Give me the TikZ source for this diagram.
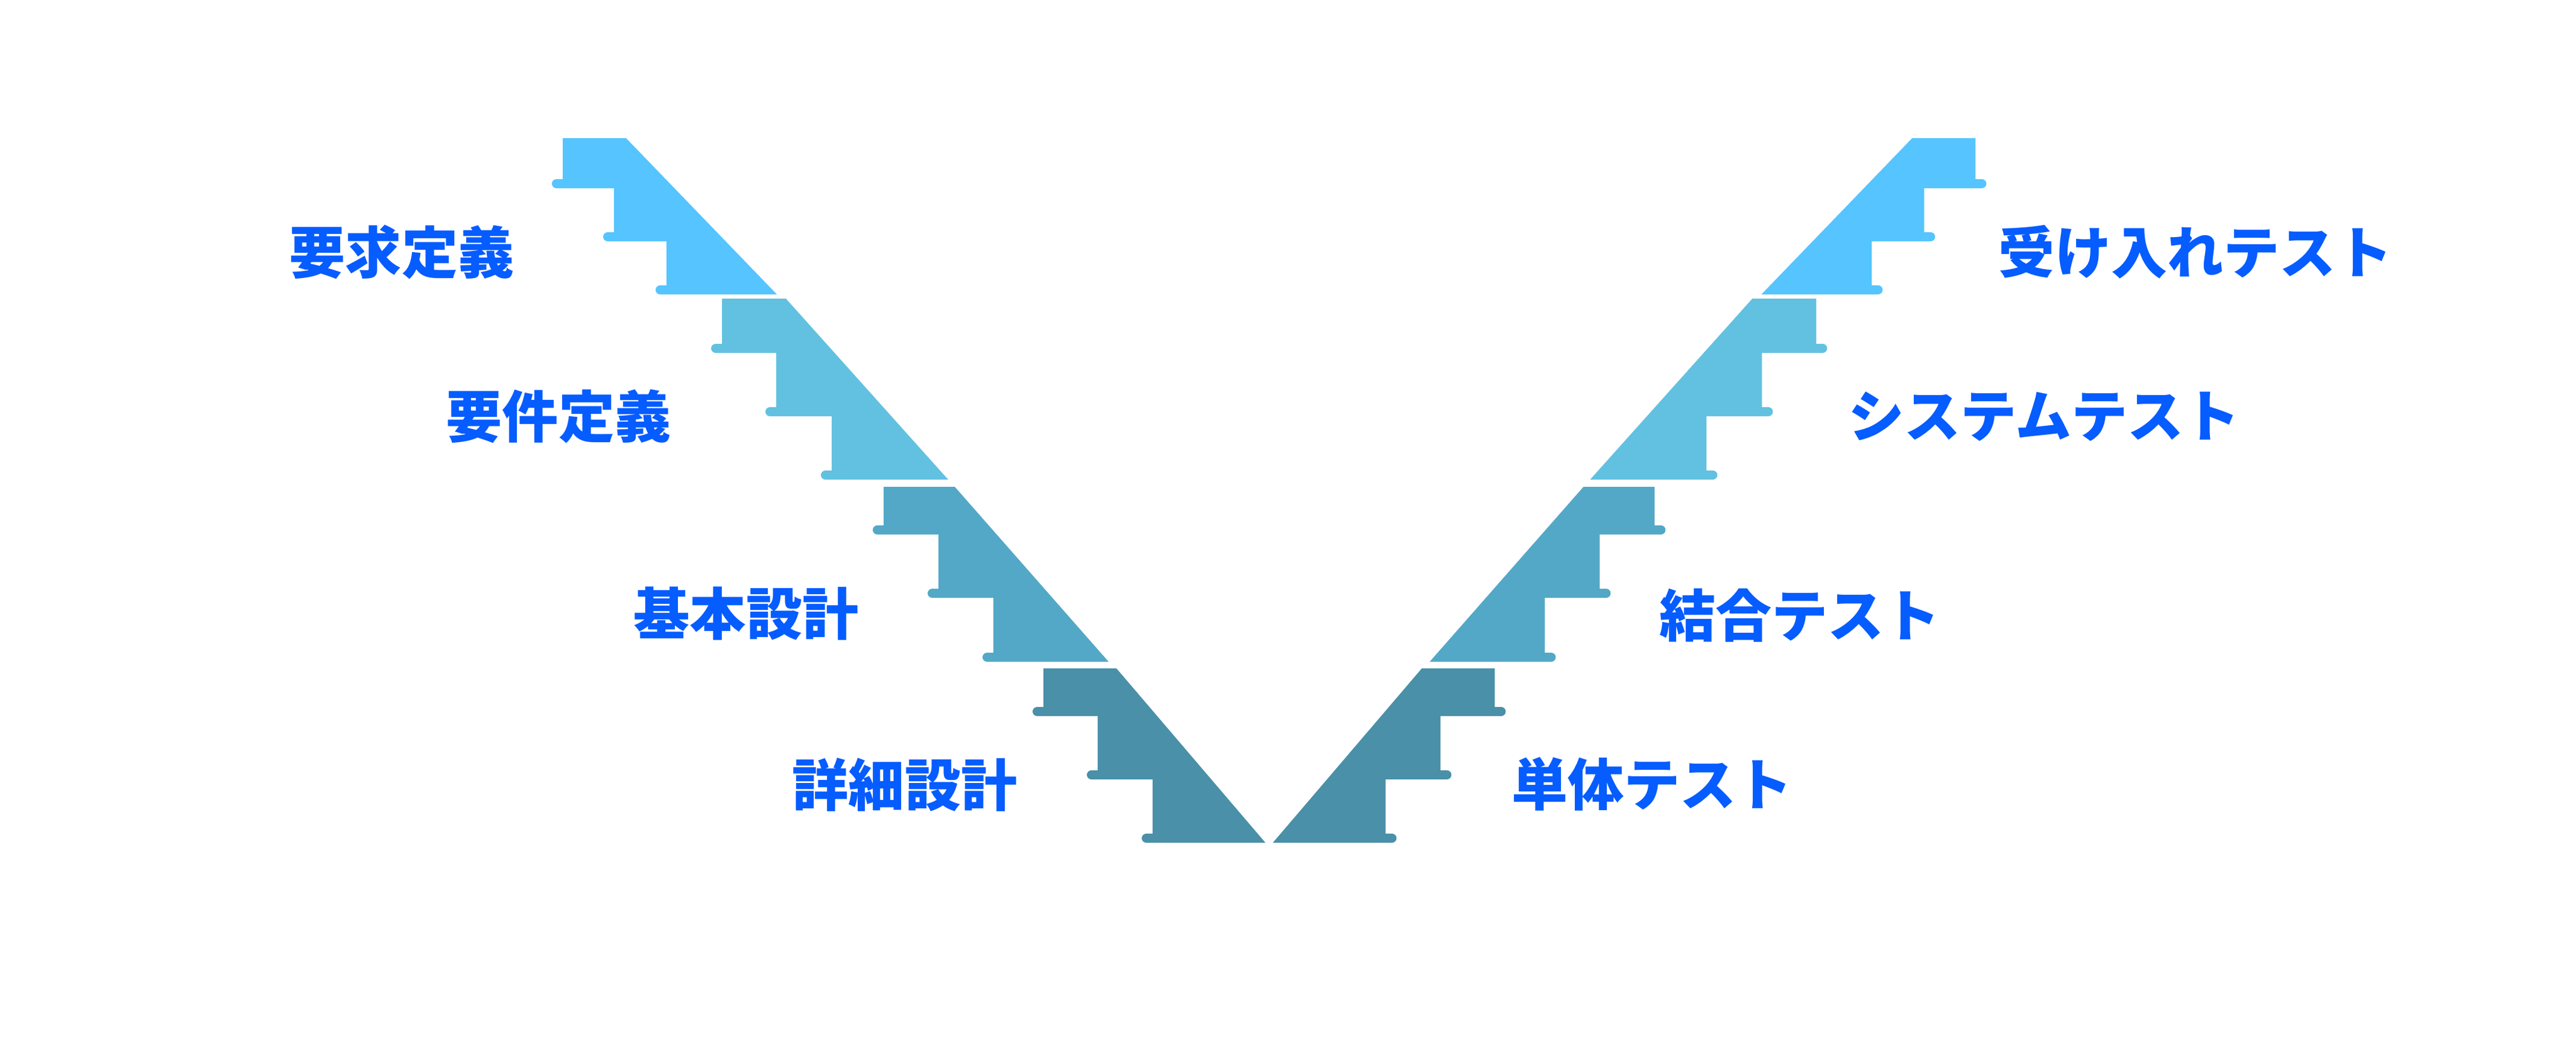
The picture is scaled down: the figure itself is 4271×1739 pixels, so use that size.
\documentclass[tikz,border=0pt]{standalone}
\usepackage{fontspec}
\newfontfamily\jpfont{Noto Sans CJK JP}
\definecolor{stepA}{RGB}{85,196,255}
\definecolor{stepB}{RGB}{98,193,224}
\definecolor{stepC}{RGB}{83,168,199}
\definecolor{stepD}{RGB}{73,144,168}
\definecolor{phaseblue}{RGB}{5,92,255}
\begin{document}
\begin{tikzpicture}[x=0.01cm, y=-0.01cm,
    phase/.style={text=phaseblue, font=\jpfont\bfseries\fontsize{26.5}{30}\selectfont}]
    \fill[white] (0,0) rectangle (4271,1739);
    \useasboundingbox (0,0) rectangle (4271,1739);
    % the two flights of stairs, left one mirrored to the right
    \foreach \s in {1,-1} {
        \begin{scope}[xshift=21.03cm, xscale=\s, xshift=-21.03cm]
            \foreach \ytop/\ya/\yb/\yc/\xa/\xb/\xc/\xt/\xd/\col in {
                229/297/385/473/933/1018/1105/1038/1288/stepA,
                495/570/675/780/1197/1287/1379/1303/1572/stepB,
                807/871/976/1082/1465/1556/1647/1583/1838/stepC,
                1108/1172/1277/1382/1730/1820/1911/1851/2098/stepD} {
                \fill[\col] (\xa,\ytop) -- (\xt,\ytop) -- (\xd,\yc+15)
                    -- (\xc-10.5,\yc+15) -- (\xc-10.5,\yc) -- (\xc,\yc)
                    -- (\xc,\yb+15) -- (\xb-10.5,\yb+15) -- (\xb-10.5,\yb) -- (\xb,\yb)
                    -- (\xb,\ya+15) -- (\xa-10.5,\ya+15) -- (\xa-10.5,\ya) -- (\xa,\ya)
                    -- cycle;
                \foreach \x/\y in {\xa/\ya, \xb/\yb, \xc/\yc} {
                    \fill[\col] (\x-10.5,\y+7.5) circle (7.5);
                }
            }
        \end{scope}
    }
    % phases
    \node[phase] (req) at (666,418) {要求定義};
    \node[phase] (spec) at (926,690) {要件定義};
    \node[phase] (basic) at (1237,1017) {基本設計};
    \node[phase] (detail) at (1500,1301) {詳細設計};
    \node[phase] (accept) at (3640,418) {受け入れテスト};
    \node[phase] (system) at (3389,690) {システムテスト};
    \node[phase] (integ) at (2984,1020) {結合テスト};
    \node[phase] (unit) at (2739,1300) {単体テスト};
\end{tikzpicture}
\end{document}
